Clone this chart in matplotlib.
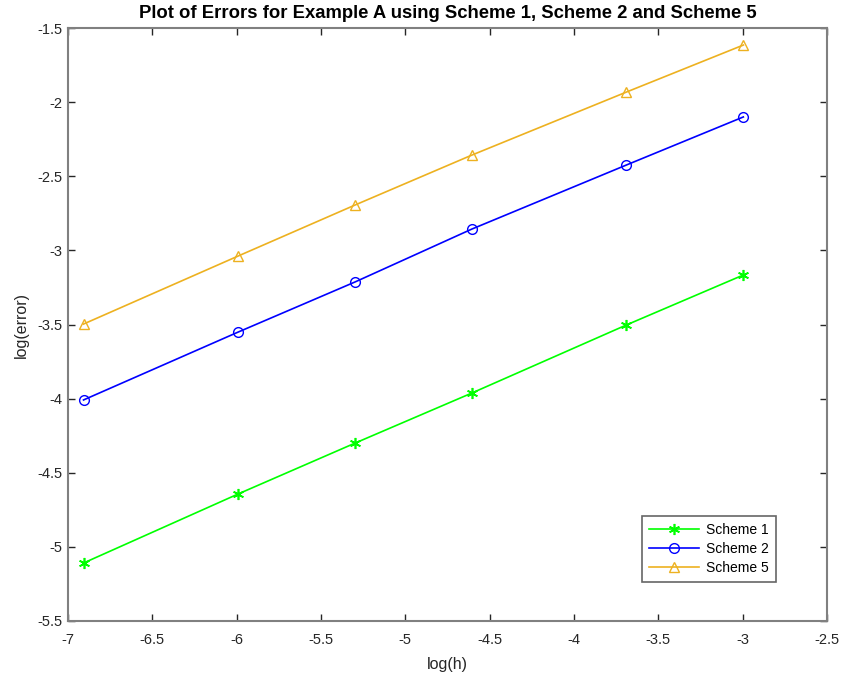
import matplotlib
matplotlib.use("Agg")
import matplotlib.pyplot as plt

plt.rcParams['font.family'] = ['Liberation Sans', 'DejaVu Sans']

# data ---------------------------------
log_h = [-6.908, -5.991, -5.298, -4.605, -3.689, -2.996]
err_s1 = [-5.109, -4.643, -4.300, -3.962, -3.503, -3.166]
err_s2 = [-4.009, -3.551, -3.213, -2.856, -2.424, -2.100]
err_s5 = [-3.497, -3.038, -2.694, -2.357, -1.932, -1.615]
xticks = [-7, -6.5, -6, -5.5, -5, -4.5, -4, -3.5, -3, -2.5]
yticks = [-5.5, -5, -4.5, -4, -3.5, -3, -2.5, -2, -1.5]
# --------------------------------------

fig = plt.figure(figsize=(8.41, 6.83), dpi=100)
ax = fig.add_axes([68/841, 1 - 621/683, (827-68)/841, (621-28)/683])

ax.plot(log_h, err_s1, color=(0, 1, 0), marker=(6, 2, 0), markersize=8, lw=1.2,
        markeredgewidth=1.2, label='Scheme 1')
ax.plot(log_h, err_s2, color=(0, 0, 1), marker='o', markersize=7, lw=1.2,
        markerfacecolor='none', label='Scheme 2')
ax.plot(log_h, err_s5, color=(0.929, 0.694, 0.125), marker='^', markersize=7,
        lw=1.2, markerfacecolor='none', label='Scheme 5')

ax.set_xlim(-7, -2.5)
ax.set_ylim(-5.5, -1.5)
ax.set_xticks(xticks)
ax.set_yticks(yticks)
ax.set_xticklabels([f'{t:g}' for t in xticks])
ax.set_yticklabels([f'{t:g}' for t in yticks])

gray = (0.15, 0.15, 0.15)
for s in ax.spines.values():
    s.set_color((0.5, 0.5, 0.5))
    s.set_linewidth(1.5)
ax.tick_params(direction='in', top=True, right=True, length=5, width=1,
               color=gray, labelcolor=gray, labelsize=10.5)
ax.tick_params(axis='x', pad=9)
ax.tick_params(axis='y', pad=4)

ax.set_xlabel('log(h)', fontsize=11.5, color=gray, labelpad=7)
ax.set_ylabel('log(error)', fontsize=11.5, color=gray, labelpad=6)
ax.set_title('Plot of Errors for Example A using Scheme 1, Scheme 2 and Scheme 5',
             fontsize=13.3, fontweight='bold', pad=7.5)

leg = ax.legend(loc='lower right', bbox_to_anchor=(0.933, 0.066), fontsize=10,
                fancybox=False, framealpha=1, edgecolor=(0.4, 0.4, 0.4),
                handlelength=3.6, handletextpad=0.5, borderpad=0.5,
                labelspacing=0.35, borderaxespad=0)
leg.get_frame().set_linewidth(1.2)

fig.savefig('out.png', dpi=100)
